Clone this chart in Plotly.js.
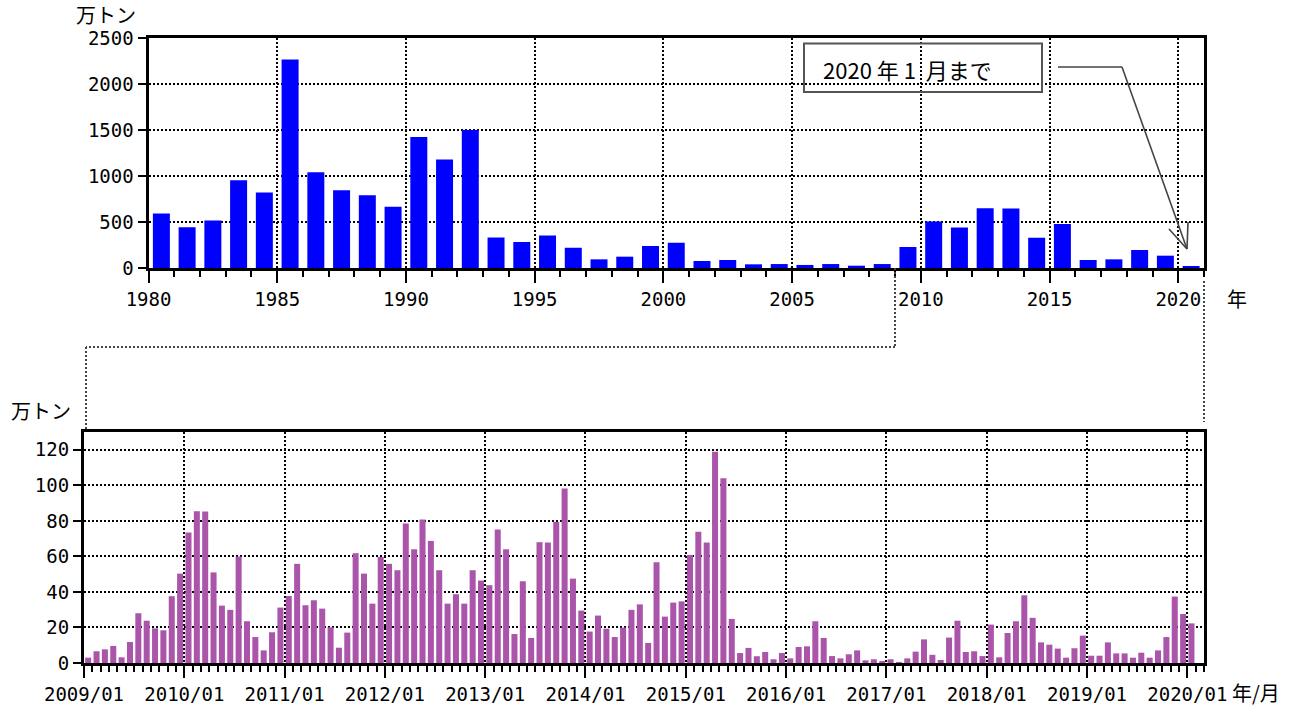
<!DOCTYPE html>
<html>
<head>
<meta charset="utf-8">
<script src="https://cdn.plot.ly/plotly-3.0.1.min.js"></script>
<style>html,body{margin:0;padding:0;background:#fff;}#chart{width:1290px;height:711px;}</style>
</head>
<body>
<div id="chart"></div>
<script>
// ---- Data (万トン) ----
const annualYears = [1980,1981,1982,1983,1984,1985,1986,1987,1988,1989,
                     1990,1991,1992,1993,1994,1995,1996,1997,1998,1999,
                     2000,2001,2002,2003,2004,2005,2006,2007,2008,2009,
                     2010,2011,2012,2013,2014,2015,2016,2017,2018,2019,2020];
const annualValues = [592,444,517,954,820,2265,1040,845,791,665,
                      1423,1178,1499,332,282,354,220,94,123,238,
                      275,76,87,40,43,33,43,25,43,228,
                      506,441,650,647,329,477,87,94,195,134,22];
const annualTickLabels = ["1980","1985","1990","1995","2000","2005","2010","2015","2020"];

const m2009 = [3.0,6.6,7.7,9.6,3.2,11.8,28.0,23.8,19.5,18.4,37.6,50.3];
const m2010 = [73.4,85.4,85.3,51.0,32.3,29.9,59.9,23.5,14.6,7.1,17.3,31.2];
const m2011 = [37.7,55.8,32.5,35.3,30.6,20.1,8.6,17.1,61.8,50.3,33.4,59.7];
const m2012 = [55.8,52.2,78.5,64.0,80.8,68.7,52.2,33.4,38.7,33.4,52.2,46.4];
const m2013 = [43.8,75.1,64.0,16.3,46.0,14.1,68.0,67.8,79.4,98.2,47.5,29.5];
const m2014 = [17.7,26.7,19.3,14.6,19.9,29.9,33.0,11.3,56.7,26.1,34.0,34.7];
const m2015 = [60.8,73.8,67.8,118.9,104.0,24.8,5.6,8.5,3.8,6.2,2.1,5.6];
const m2016 = [2.6,9.0,9.4,23.5,14.1,3.9,2.6,4.9,7.1,1.5,2.1,1.1];
const m2017 = [2.1,0.6,2.6,6.4,13.3,4.6,1.7,14.3,23.8,6.2,6.6,3.9];
const m2018 = [21.6,3.2,16.9,23.5,38.1,25.4,11.6,10.3,8.1,3.0,8.3,15.4];
const m2019 = [4.1,4.1,11.6,5.4,5.4,3.0,5.8,3.0,7.1,14.6,37.4,27.6];
const m2020 = [22.3];
const monthlyTickLabels = ["2009/01","2010/01","2011/01","2012/01","2013/01","2014/01",
                           "2015/01","2016/01","2017/01","2018/01","2019/01","2020/01"];

// ---- Build series ----
const monthlyValues = [].concat(m2009,m2010,m2011,m2012,m2013,m2014,m2015,m2016,m2017,m2018,m2019,m2020);
const monthIndex = monthlyValues.map((v,i)=>i);
const monthNames = monthlyValues.map((v,i)=>{
  const y = 2009 + Math.floor(i/12), m = (i%12)+1;
  return y + "/" + (m<10?"0":"") + m;
});
const annualTickVals = annualTickLabels.map(s=>Number(s)-0.5);
const monthlyTickVals = monthlyTickLabels.map((s,k)=>k*12-0.5);

// ---- Layout helpers (pixel -> paper) ----
const W = 1290, H = 711;
const px = x => x / W;
const py = y => 1 - y / H;

const numFont = {family:"DejaVu Sans Mono, Noto Sans CJK JP", size:19, color:"#000"};
const jpFont = (s)=>({family:"Noto Sans CJK JP, sans-serif", size:s, color:"#000"});

const gridCommon = {
  showgrid:true, gridcolor:"#000", gridwidth:2, griddash:"2px,2px",
  showline:true, linecolor:"#000", linewidth:3, mirror:true,
  zeroline:false, ticks:"outside", tickcolor:"#000", tickfont:numFont,
  fixedrange:true
};

const traces = [
  {type:"bar", x:annualYears, y:annualValues, xaxis:"x", yaxis:"y",
   marker:{color:"#0000FF", line:{width:0}}, width:0.66,
   hoverinfo:"x+y"},
  {type:"bar", x:monthIndex, y:monthlyValues, xaxis:"x2", yaxis:"y2",
   customdata:monthNames, hovertemplate:"%{customdata}: %{y}<extra></extra>",
   marker:{color:"#AA55AA", line:{width:0}}, width:0.72}
];

const dotLine = (x0,y0,x1,y1)=>({type:"line", xref:"paper", yref:"paper",
  x0:px(x0), y0:py(y0), x1:px(x1), y1:py(y1),
  line:{color:"#444", width:2, dash:"2px,2px"}});
const solidLine = (x0,y0,x1,y1)=>({type:"line", xref:"paper", yref:"paper",
  x0:px(x0), y0:py(y0), x1:px(x1), y1:py(y1),
  line:{color:"#444", width:1.6}});
const label = (text,x,y,size,xanchor)=>({text:text, xref:"paper", yref:"paper",
  x:px(x), y:py(y), xanchor:xanchor||"center", yanchor:"middle",
  showarrow:false, font:jpFont(size)});

const layout = {
  width:W, height:H,
  margin:{l:0, r:0, t:0, b:0},
  paper_bgcolor:"#fff", plot_bgcolor:"#fff",
  showlegend:false,
  font:numFont,
  xaxis: Object.assign({}, gridCommon, {
    domain:[px(148.5), px(1204)], range:[1979.5, 2020.5], anchor:"y",
    tickmode:"array", tickvals:annualTickVals, ticktext:annualTickLabels,
    ticklen:12, tickwidth:2,
    minor:{tickmode:"linear", tick0:1979.5, dtick:1, ticks:"outside",
           ticklen:6, tickwidth:2, tickcolor:"#000", showgrid:false}
  }),
  yaxis: Object.assign({}, gridCommon, {
    domain:[py(268), py(38)], range:[0, 2500], anchor:"x",
    tickmode:"array", tickvals:[0,500,1000,1500,2000,2500],
    ticklen:8, tickwidth:2
  }),
  xaxis2: Object.assign({}, gridCommon, {
    domain:[px(84), px(1204)], range:[-0.5, 133.5], anchor:"y2",
    tickmode:"array", tickvals:monthlyTickVals, ticktext:monthlyTickLabels,
    ticklen:12, tickwidth:2,
    minor:{tickmode:"linear", tick0:-0.5, dtick:1, ticks:"outside",
           ticklen:6, tickwidth:2, tickcolor:"#000", showgrid:false}
  }),
  yaxis2: Object.assign({}, gridCommon, {
    domain:[py(663), py(432)], range:[0, 130], anchor:"x2",
    tickmode:"array", tickvals:[0,20,40,60,80,100,120],
    ticklen:8, tickwidth:2
  }),
  shapes:[
    // note box
    {type:"rect", xref:"paper", yref:"paper",
     x0:px(804), y0:py(92), x1:px(1042), y1:py(43.5),
     line:{color:"#555", width:2}, fillcolor:"rgba(255,255,255,0)"},
    // bent arrow
    solidLine(1058,67,1122,67),
    solidLine(1122,67,1187,249),
    solidLine(1169,229,1187,249),
    solidLine(1188,222,1187,249),
    // zoom connector lines
    dotLine(895,268,895,347),
    dotLine(895,347,86,347),
    dotLine(86,347,86,430),
    dotLine(1204,281,1204,422)
  ],
  annotations:[
    label("万トン", 106, 14, 20),
    label("年", 1237, 298, 20),
    label("万トン", 41, 410, 20),
    label("年/月", 1256, 692, 20),
    label("2020&nbsp;年&nbsp;1&nbsp;&nbsp;月まで", 821, 69, 22, "left")
  ]
};

Plotly.newPlot("chart", traces, layout, {staticPlot:true, displayModeBar:false});
</script>
</body>
</html>
